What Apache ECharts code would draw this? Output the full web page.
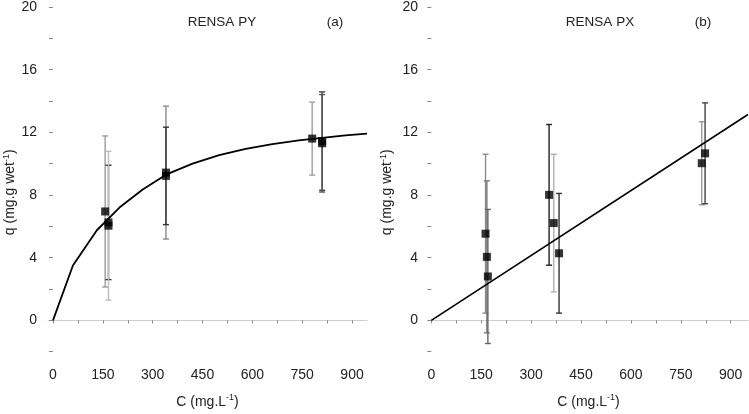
<!DOCTYPE html>
<html>
<head>
<meta charset="utf-8">
<script src="https://cdn.jsdelivr.net/npm/echarts@6/dist/echarts.min.js"></script>
<style>html,body{margin:0;padding:0;background:#fff}#c{width:749px;height:414px}</style>
</head>
<body>
<div id="c"></div>
<script>
// ---- data ----
const xTicks = [0, 75, 150, 225, 300, 375, 450, 525, 600, 675, 750, 825, 900];
const xLabels = [0, 150, 300, 450, 600, 750, 900];
const yTicks = [-2, 0, 2, 4, 6, 8, 10, 12, 14, 16, 18, 20];
const yLabels = [0, 4, 8, 12, 16, 20];

// panel (a) RENSA PY
const pyCurveC = [0, 60, 132, 200, 270, 340, 420, 500, 580, 660, 740, 810, 880, 945];
const pyCurveQ = [0, 3.5, 5.75, 7.2, 8.35, 9.3, 10.0, 10.55, 10.95, 11.25, 11.48, 11.65, 11.8, 11.92];
const pyC = [157, 167, 167, 340, 340, 780, 810, 810];
const pyQ = [6.95, 6.25, 6.04, 9.43, 9.22, 11.6, 11.44, 11.3];
const pyErr = [4.82, 3.65, 4.75, 4.24, 3.11, 2.33, 3.14, 3.11];

// panel (b) RENSA PX
const pxLineC = [0, 952];
const pxLineQ = [0, 13.14];
const pxC = [163, 167, 170, 354, 368, 384, 813, 823];
const pxQ = [5.53, 4.05, 2.8, 8.01, 6.21, 4.28, 10.03, 10.66];
const pxErr = [5.07, 4.85, 4.28, 4.49, 4.39, 3.82, 2.65, 3.22];

// ---- styles ----
const pyErrColor = ['#9a9a9a', '#333333', '#bdbdbd', '#8a8a8a', '#333333', '#a0a0a0', '#444444', '#555555'];
const pxErrColor = ['#8a8a8a', '#777777', '#666666', '#222222', '#b0b0b0', '#333333', '#999999', '#444444'];

const chart = echarts.init(document.getElementById('c'));
const FONT = 'Liberation Sans, Arial, sans-serif';
const TXT = '#222';

function xAxisDef(gridIndex, min, max) {
  return {
    type: 'value', gridIndex, min, max,
    axisLine: {show: true, lineStyle: {color: '#cfcfcf', width: 1}},
    axisTick: {show: true, length: 3, lineStyle: {color: '#888'}, customValues: xTicks},
    axisLabel: {color: TXT, fontSize: 14, fontFamily: FONT, margin: 9, customValues: xLabels},
    splitLine: {show: false},
    name: '{n|C (mg.L}{s|-1}{n|)}',
    nameLocation: 'middle', nameGap: 34,
    nameTextStyle: {
      rich: {
        n: {fontSize: 14, fontFamily: FONT, color: TXT},
        s: {fontSize: 9, fontFamily: FONT, color: TXT, verticalAlign: 'top', padding: [0, 0, 8, 0]}
      }
    }
  };
}
function yAxisDef(gridIndex, nameGap) {
  return {
    type: 'value', gridIndex, min: -2.5, max: 20,
    axisLine: {show: false},
    axisTick: {show: true, length: 4, lineStyle: {color: '#888'}, customValues: yTicks},
    axisLabel: {color: TXT, fontSize: 14, fontFamily: FONT, margin: 11, customValues: yLabels},
    splitLine: {show: false},
    name: '{n|q (mg.g wet}{s|-1}{n|)}',
    nameLocation: 'middle', nameGap: nameGap, nameRotate: 90,
    nameTextStyle: {
      padding: [0, 18, 0, 0],
      rich: {
        n: {fontSize: 14, fontFamily: FONT, color: TXT},
        s: {fontSize: 9, fontFamily: FONT, color: TXT, verticalAlign: 'top', padding: [0, 0, 8, 0]}
      }
    }
  };
}

function errSeries(idx, C, Q, E, colors) {
  const data = C.map((c, i) => [c, Q[i] - E[i], Q[i] + E[i], i]);
  return {
    type: 'custom', xAxisIndex: idx, yAxisIndex: idx, z: 2, silent: true,
    data,
    renderItem: function (params, api) {
      const i = api.value(3);
      const lo = api.coord([api.value(0), api.value(1)]);
      const hi = api.coord([api.value(0), api.value(2)]);
      const col = colors[i];
      const st = {stroke: col, lineWidth: 1.4};
      return {
        type: 'group',
        children: [
          {type: 'line', shape: {x1: lo[0], y1: lo[1], x2: hi[0], y2: hi[1]}, style: st},
          {type: 'line', shape: {x1: lo[0] - 3, y1: lo[1], x2: lo[0] + 3, y2: lo[1]}, style: st},
          {type: 'line', shape: {x1: hi[0] - 3, y1: hi[1], x2: hi[0] + 3, y2: hi[1]}, style: st}
        ]
      };
    }
  };
}

const titleStyle = {fontSize: 13.5, fontWeight: 'normal', fontFamily: FONT, color: TXT};

chart.setOption({
  animation: false,
  backgroundColor: '#fff',
  title: [
    {text: 'RENSA PY', left: 217, top: 10, textAlign: 'center', textStyle: titleStyle},
    {text: '(a)', left: 330, top: 10, textAlign: 'center', textStyle: titleStyle},
    {text: 'RENSA PX', left: 595, top: 10, textAlign: 'center', textStyle: titleStyle},
    {text: '(b)', left: 698, top: 10, textAlign: 'center', textStyle: titleStyle}
  ],
  grid: [
    {left: 48, top: 7, width: 319, height: 354},
    {left: 429, top: 7, width: 319, height: 354}
  ],
  xAxis: [xAxisDef(0, -15, 945), xAxisDef(1, -7, 952)],
  yAxis: [yAxisDef(0, 28), yAxisDef(1, 33)],
  series: [
    {
      type: 'line', xAxisIndex: 0, yAxisIndex: 0, z: 3,
      data: pyCurveC.map((c, i) => [c, pyCurveQ[i]]),
      symbol: 'none', smooth: false, lineStyle: {color: '#000', width: 1.8}
    },
    errSeries(0, pyC, pyQ, pyErr, pyErrColor),
    {
      type: 'scatter', xAxisIndex: 0, yAxisIndex: 0, z: 4,
      data: pyC.map((c, i) => [c, pyQ[i]]),
      symbol: 'rect', symbolSize: 8, itemStyle: {color: '#000'}
    },
    {
      type: 'line', xAxisIndex: 1, yAxisIndex: 1, z: 3,
      data: pxLineC.map((c, i) => [c, pxLineQ[i]]),
      symbol: 'none', lineStyle: {color: '#000', width: 1.6}
    },
    errSeries(1, pxC, pxQ, pxErr, pxErrColor),
    {
      type: 'scatter', xAxisIndex: 1, yAxisIndex: 1, z: 4,
      data: pxC.map((c, i) => [c, pxQ[i]]),
      symbol: 'rect', symbolSize: 8, itemStyle: {color: '#000'}
    }
  ]
});
</script>
</body>
</html>
